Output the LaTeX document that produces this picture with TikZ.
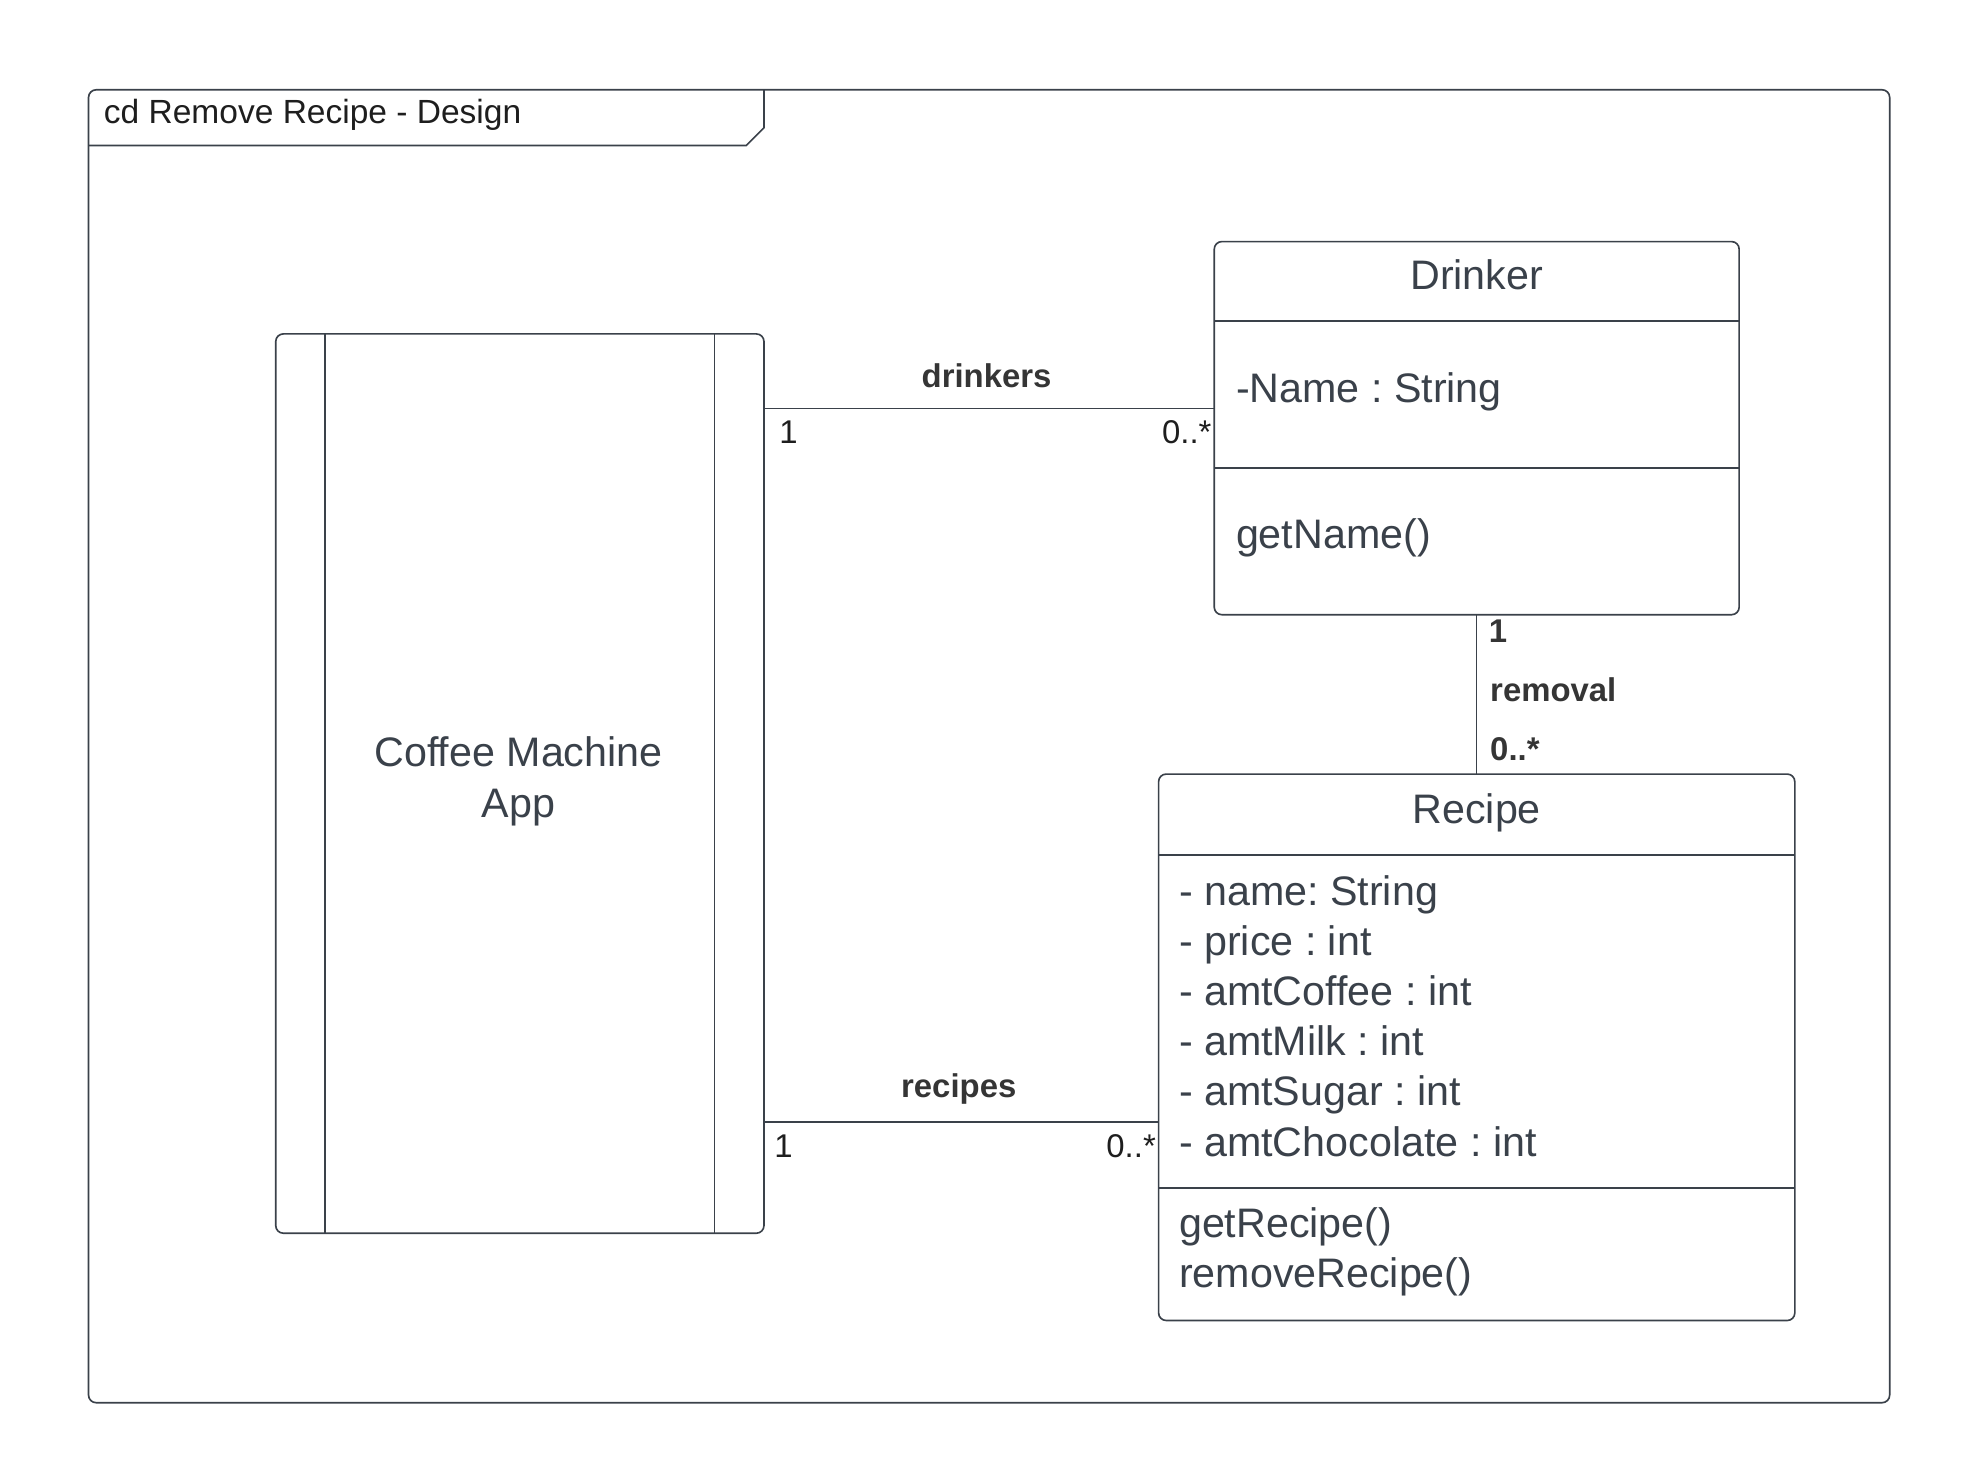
\documentclass[tikz,border=0pt]{standalone}
\usepackage{fontspec}
\setmainfont{Liberation Sans}
\usetikzlibrary{calc}
\definecolor{linec}{RGB}{58,65,74}
\definecolor{txtc}{RGB}{58,65,74}
\definecolor{lblc}{RGB}{30,30,30}
\begin{document}
\frenchspacing
\begin{tikzpicture}[x=1pt,y=-1pt,
  box/.style={draw=linec,line width=1.3pt,rounded corners=6pt,inner sep=0pt,outer sep=0pt},
  divider/.style={draw=linec,line width=1.3pt},
  conn/.style={draw=linec,line width=1.2pt},
  big/.style={font=\fontsize{32.6}{39.6}\selectfont\frenchspacing,text=txtc,inner sep=0pt},
  ttl/.style={font=\fontsize{26.5}{30}\selectfont,text=lblc,inner sep=0pt},
  mult/.style={font=\fontsize{26}{30}\selectfont,text=lblc,inner sep=0pt},
  role/.style={font=\fontsize{26}{30}\selectfont\bfseries,text=lblc!90!white,inner sep=0pt},
]
\useasboundingbox (0,0) rectangle (1567,1155.1);

% frame
\node[box,minimum width=1424pt,minimum height=1038pt] (frame) at (782,590) {};
\draw[divider] ([xshift=534pt]frame.north west) -- ++(0,30) -- ++(-14,14) -- ([yshift=-44pt]frame.north west);
\node[ttl,anchor=base west] (title) at (82,98) {cd Remove Recipe - Design};

% Coffee Machine App
\node[box,minimum width=386pt,minimum height=711pt] (app) at (411,619.5) {};
\draw[divider] ([xshift=39pt]app.north west) -- ([xshift=39pt]app.south west);
\draw[divider] ([xshift=-39pt]app.north east) -- ([xshift=-39pt]app.south east);
\node[big,anchor=base] (apptxt1) at (410,606) {Coffee Machine};
\node[big,anchor=base] (apptxt2) at (410,646) {App};

% Drinker
\node[box,minimum width=415pt,minimum height=295pt] (drinker) at (1167.5,338.5) {};
\draw[divider] ([yshift=-63pt]drinker.north west) -- ([yshift=-63pt]drinker.north east);
\draw[divider] ([yshift=-179pt]drinker.north west) -- ([yshift=-179pt]drinker.north east);
\node[big,anchor=base] (dname) at (1167.5,229) {Drinker};
\node[big,anchor=base west] (dattr) at (977,318) {-Name : String};
\node[big,anchor=base west] (dop) at (977,434) {getName()};

% Recipe
\node[box,minimum width=503pt,minimum height=432pt] (recipe) at (1167.5,828) {};
\draw[divider] ([yshift=-64pt]recipe.north west) -- ([yshift=-64pt]recipe.north east);
\draw[divider] ([yshift=-327pt]recipe.north west) -- ([yshift=-327pt]recipe.north east);
\node[big,anchor=base] (rname) at (1167.5,651) {Recipe};
\node[big,anchor=base west] (ra1) at (932,716) {- name: String};
\node[big,anchor=base west] (ra2) at (932,755.6) {- price : int};
\node[big,anchor=base west] (ra3) at (932,795.2) {- amtCoffee : int};
\node[big,anchor=base west] (ra4) at (932,834.8) {- amtMilk : int};
\node[big,anchor=base west] (ra5) at (932,874.4) {- amtSugar : int};
\node[big,anchor=base west] (ra6) at (932,914) {- amtChocolate : int};
\node[big,anchor=base west] (ro1) at (932,978) {getRecipe()};
\node[big,anchor=base west] (ro2) at (932,1017.6) {removeRecipe()};

% connectors
\coordinate (c1) at (0,323);
\coordinate (c2) at (0,887);
\draw[conn] (app.east |- c1) -- (drinker.west |- c1);
\draw[conn] (app.east |- c2) -- (recipe.west |- c2);
\draw[conn] (drinker.south) -- (recipe.north);

\node[role,anchor=base] (l1) at (780,306) {drinkers};
\node[mult,anchor=base west] (m1a) at (616,351) {1};
\node[mult,anchor=base east] (m1b) at (958,351) {0..*};

\node[role,anchor=base] (l2) at (758,868) {recipes};
\node[mult,anchor=base west] (m2a) at (612,915) {1};
\node[mult,anchor=base east] (m2b) at (914,915) {0..*};

\node[role,anchor=base west] (m3a) at (1177,508) {1};
\node[role,anchor=base west] (l3) at (1178,555) {removal};
\node[role,anchor=base west] (m3b) at (1178,601) {0..*};
\end{tikzpicture}
\end{document}
